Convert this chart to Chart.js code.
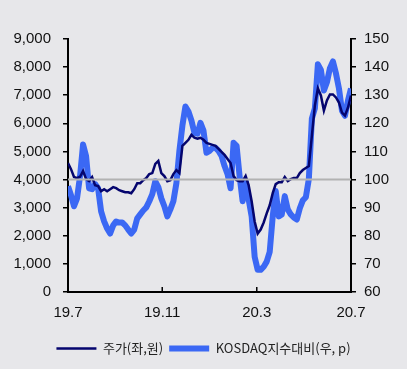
<!DOCTYPE html>
<html>
<head>
<meta charset="utf-8">
<script src="https://cdn.jsdelivr.net/npm/chart.js@4/dist/chart.umd.min.js"></script>
<style>
  html, body { margin: 0; padding: 0; background: #e7e7ea; }
  canvas { display: block; }
</style>
</head>
<body>
<canvas id="c" width="407" height="369"></canvas>
<script>
// x axis labels and where they sit (sample index)
const xLabels = ["19.7", "19.11", "20.3", "20.7"];
const xTickIdx = [0, 31.3, 62.7, 94];

// stock price (left axis, KRW), roughly every 4 days from 19.7 to 20.7
const price = [
  4590, 4370, 4090, 4050, 4100, 4300, 4020, 3945, 4090, 3800,
  3765, 3585, 3657, 3585, 3657, 3730, 3693, 3620, 3585, 3550,
  3550, 3514, 3657, 3872, 3872, 3980, 4052, 4195, 4230, 4554,
  4661, 4230, 4123, 3944, 3980, 4195, 4338, 4230, 5199, 5307,
  5414, 5593, 5486, 5450, 5486, 5414, 5307, 5271, 5235, 5199,
  5091, 4984, 4876, 4733, 4589, 4123, 3980, 3944, 3944, 4123,
  3800, 3227, 2510, 2080, 2223, 2474, 2797, 3084, 3514, 3836,
  3908, 3908, 4087, 3944, 4016, 4052, 4052, 4230, 4338, 4410,
  4482, 5557, 6633, 7243, 6992, 6454, 6812, 7028, 7028, 6920,
  6741, 6382, 6275, 6561, 6992
];

// relative to KOSDAQ (right axis, p)
const relative = [
  97.6, 94.4, 90.5, 93.3, 101.2, 112.5, 108.4, 96.9, 96.6, 98.4,
  96.9, 88.7, 85.1, 82.6, 80.8, 83.7, 85.1, 84.7, 84.7, 83.7,
  82.2, 80.8, 82.2, 86.2, 87.6, 89.0, 90.1, 92.3, 94.8, 99.4,
  97.3, 93.3, 90.5, 86.9, 89.4, 92.3, 98.7, 110.2, 119.2, 126.0,
  124.2, 121.0, 116.6, 116.3, 120.2, 117.4, 109.5, 110.2, 111.3, 111.3,
  110.2, 108.4, 104.8, 101.9, 96.9, 113.1, 112.0, 101.2, 92.3, 99.4,
  93.0, 86.9, 72.5, 67.9, 67.9, 69.0, 70.8, 74.3, 86.9, 95.9,
  86.9, 87.6, 94.1, 89.4, 87.6, 86.5, 85.8, 89.8, 92.6, 93.7,
  100.2, 121.7, 125.3, 141.0, 139.0, 131.7, 134.6, 139.6, 142.0, 137.8,
  132.4, 124.5, 122.7, 128.1, 132.4
];

const refLine = 4000;

const tickFont = { family: "'Liberation Sans', Arial, sans-serif", size: 15 };

const extras = {
  id: "extras",
  afterDatasetsDraw(chart) {
    const { ctx, chartArea, scales } = chart;
    const y = scales.y.getPixelForValue(refLine);
    ctx.save();
    ctx.strokeStyle = "#b2b2b2";
    ctx.lineWidth = 2;
    ctx.beginPath();
    ctx.moveTo(chartArea.left, y);
    ctx.lineTo(chartArea.right, y);
    ctx.stroke();
    ctx.restore();
  },
  afterDraw(chart) {
    const { ctx, chartArea, scales } = chart;
    ctx.save();
    ctx.strokeStyle = "#000";
    ctx.lineWidth = 1.5;
    xTickIdx.forEach((v) => {
      const x = scales.x.getPixelForValue(v);
      ctx.beginPath();
      ctx.moveTo(x, chartArea.bottom);
      ctx.lineTo(x, chartArea.bottom - 5);
      ctx.stroke();
    });
    ctx.restore();
  },
};

new Chart(document.getElementById("c"), {
  type: "line",
  data: {
    datasets: [
      {
        label: "주가(좌,원)",
        data: price.map((v, i) => ({ x: i, y: v })),
        yAxisID: "y",
        borderColor: "#05056e",
        borderWidth: 2.5,
        pointRadius: 0,
        pointStyle: "line",
        tension: 0,
      },
      {
        label: "KOSDAQ지수대비(우, p)",
        data: relative.map((v, i) => ({ x: i, y: v })),
        yAxisID: "y1",
        borderColor: "#3b68f4",
        borderWidth: 6,
        borderJoinStyle: "round",
        pointRadius: 0,
        pointStyle: "line",
        tension: 0,
      },
    ],
  },
  options: {
    responsive: false,
    animation: false,
    layout: { padding: { top: 39, left: 0, right: 0, bottom: 4 } },
    plugins: {
      tooltip: { enabled: false },
      legend: {
        position: "bottom",
        labels: {
          usePointStyle: true,
          pointStyleWidth: 40,
          boxHeight: 13,
          padding: 6,
          color: "#222",
          font: { family: "'Noto Sans CJK KR', sans-serif", size: 13 },
        },
      },
    },
    scales: {
      x: {
        type: "linear",
        min: 0,
        max: 94,
        afterBuildTicks(s) {
          s.ticks = xTickIdx.map((v) => ({ value: v }));
        },
        afterFit(s) {
          s.height = 44;
        },
        ticks: {
          autoSkip: false,
          maxRotation: 0,
          padding: 4,
          color: "#111",
          font: tickFont,
          callback: (v, i) => xLabels[i],
        },
        grid: { display: false },
        border: { display: true, color: "#000", width: 2 },
      },
      y: {
        position: "left",
        min: 0,
        max: 9000,
        afterFit(s) {
          s.width = 68;
        },
        ticks: {
          stepSize: 1000,
          padding: 12,
          color: "#111",
          font: tickFont,
          callback: (v) => v.toLocaleString("en-US"),
        },
        grid: { drawOnChartArea: false, color: "#000", lineWidth: 1.5, tickLength: 5 },
        border: { color: "#000", width: 2 },
      },
      y1: {
        position: "right",
        min: 60,
        max: 150,
        afterFit(s) {
          s.width = 56;
        },
        ticks: {
          stepSize: 10,
          padding: 8,
          color: "#111",
          font: tickFont,
        },
        grid: { drawOnChartArea: false, color: "#000", lineWidth: 1.5, tickLength: 5 },
        border: { color: "#000", width: 2 },
      },
    },
  },
  plugins: [extras],
});
</script>
</body>
</html>
